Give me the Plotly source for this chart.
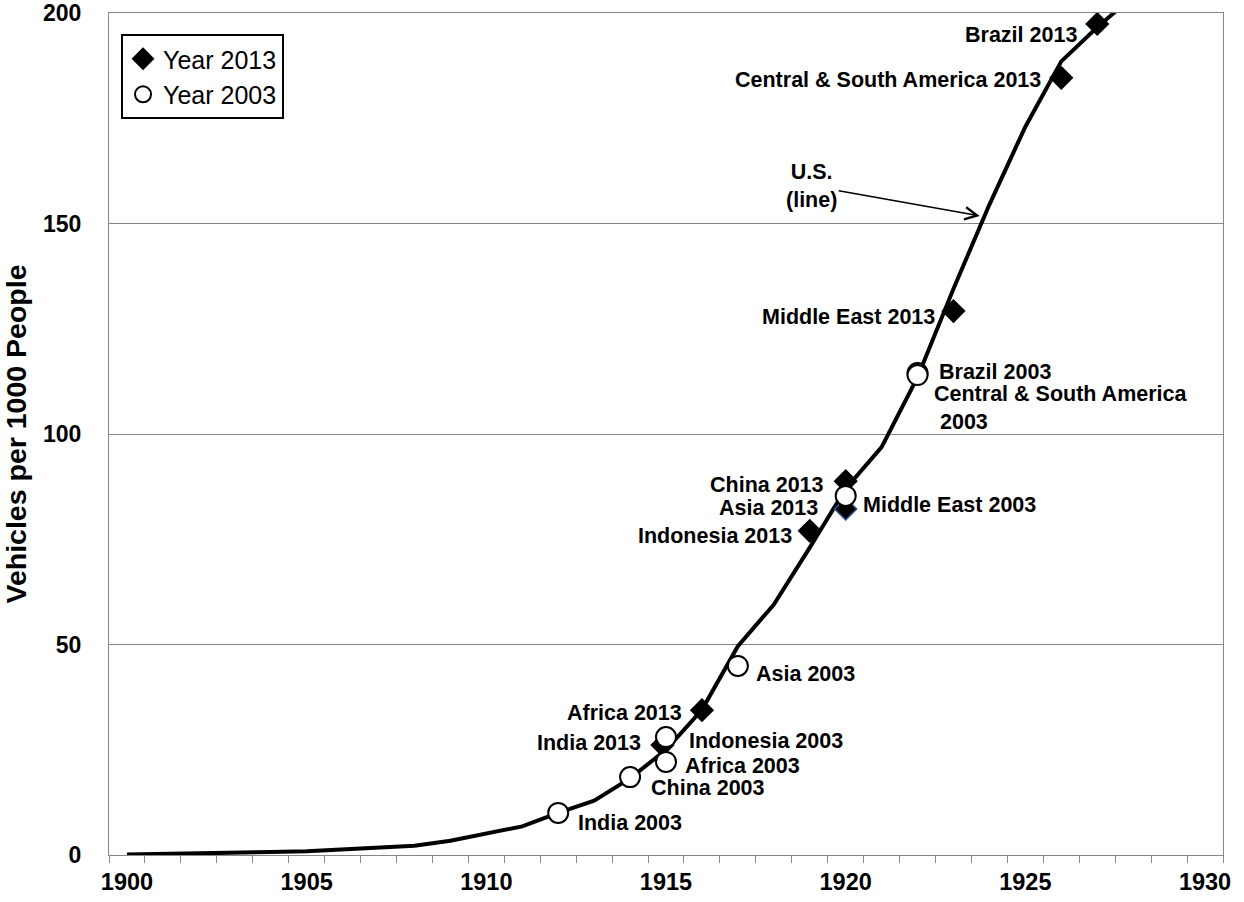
import plotly.graph_objects as go

# U.S. vehicles per 1000 people, by year
us_years = list(range(1900, 1929))
us_values = [0.1, 0.2, 0.3, 0.4, 0.7, 0.9, 1.3, 1.6, 2.2, 3.4,
             5.0, 6.8, 10.0, 12.9, 18.2, 25.0, 34.5, 49.6, 59.5, 73.0,
             87.0, 96.9, 113.5, 134.5, 154.5, 173.0, 188.5, 196.6, 204.0]

# Regions in 2013, placed on the U.S. year with the same ownership level
labels_2013 = ["Brazil 2013", "Central & South America 2013", "Middle East 2013",
               "China 2013", "Asia 2013", "Indonesia 2013", "Africa 2013", "India 2013"]
years_2013 = [1927.0, 1926.0, 1923.0, 1920.0, 1920.0, 1919.0, 1916.0, 1914.9]
values_2013 = [197.4, 184.6, 129.2, 88.8, 82.2, 77.0, 34.4, 26.1]

# Regions in 2003
labels_2003 = ["Brazil 2003", "Central & South America<br>\u00a02003", "Middle East 2003",
               "Asia 2003", "Indonesia 2003", "Africa 2003", "China 2003", "India 2003"]
years_2003 = [1922.0, 1922.0, 1920.0, 1917.0, 1915.0, 1915.0, 1914.0, 1912.0]
values_2003 = [114.5, 114.0, 85.3, 44.9, 28.0, 22.1, 18.5, 10.0]

FONT = "Liberation Sans, Arial, sans-serif"
LABEL_SIZE = 21.5

# label placement: (side, xshift px, yshift px)
offsets_2013 = [("right", -19, -11), ("right", -19, -2), ("right", -17, -6),
                ("right", -21, -4), ("right", -27, 1), ("right", -17, -5),
                ("right", -19, -3), ("right", -20, 2)]
offsets_2003 = [("left", 20, 1), ("left", 15, -33), ("left", 16, -9),
                ("left", 17, -8), ("left", 22, -4), ("left", 18, -4),
                ("left", 20, -11), ("left", 19, -10)]
edge_2013 = ["black", "black", "black", "black", "#2f5597", "black", "black", "black"]

fig = go.Figure()
fig.add_trace(go.Scatter(
    x=us_years, y=us_values, mode="lines", showlegend=False,
    line=dict(color="black", width=4), hoverinfo="skip"))
fig.add_trace(go.Scatter(
    x=years_2013, y=values_2013, mode="markers", name="Year 2013",
    marker=dict(symbol="diamond", size=17, color="black",
                line=dict(color=edge_2013, width=1.5))))
fig.add_trace(go.Scatter(
    x=years_2003, y=values_2003, mode="markers", name="Year 2003",
    marker=dict(symbol="circle", size=20, color="white",
                line=dict(color="black", width=2))))

label_font = dict(family=FONT, size=LABEL_SIZE, color="black", weight="bold")
annotations = []
for lab, xv, yv, (side, dx, dy) in zip(labels_2013, years_2013, values_2013, offsets_2013):
    annotations.append(dict(x=xv, y=yv, text=lab, showarrow=False, xanchor=side,
                            yanchor="middle", xshift=dx, yshift=dy, align="left",
                            font=label_font, borderpad=0))
for lab, xv, yv, (side, dx, dy) in zip(labels_2003, years_2003, values_2003, offsets_2003):
    annotations.append(dict(x=xv, y=yv, text=lab, showarrow=False, xanchor=side,
                            yanchor="middle", xshift=dx, yshift=dy, align="left",
                            font=label_font, borderpad=0))

# pointer to the U.S. curve
annotations.append(dict(
    x=1923.73, y=151.8, text="U.S.<br>(line)", showarrow=True,
    ax=-168, ay=-30, arrowhead=5, arrowsize=1.6, arrowwidth=1.5, arrowcolor="black",
    standoff=0, align="center", font=label_font))

fig.update_layout(
    width=1244, height=902,
    margin=dict(l=109, r=21, t=13, b=47),
    paper_bgcolor="white", plot_bgcolor="white",
    font=dict(family=FONT, color="black"),
    annotations=annotations,
    showlegend=True,
    legend=dict(x=0.0108, y=0.975, xanchor="left", yanchor="top",
                bgcolor="white", bordercolor="black", borderwidth=2,
                font=dict(family=FONT, size=25, color="black"),
                itemwidth=30, tracegroupgap=0),
    xaxis=dict(
        range=[1899.5, 1930.5], automargin=False, showgrid=False, zeroline=False,
        showline=True, linecolor="#868686", linewidth=1, mirror=True,
        tickmode="array", tickvals=[1900, 1905, 1910, 1915, 1920, 1925, 1930],
        ticks="", ticklabelstandoff=6,
        tickfont=dict(family=FONT, size=23.5, color="black", weight="bold"),
        minor=dict(tick0=1899.5, dtick=1, ticks="outside", ticklen=7,
                   tickcolor="#868686", showgrid=False)),
    yaxis=dict(
        range=[0, 200], automargin=False, showgrid=True, gridcolor="#868686", gridwidth=1,
        zeroline=False, showline=True, linecolor="#868686", linewidth=1, mirror=True,
        tickmode="array", tickvals=[0, 50, 100, 150, 200], ticks="",
        ticklabelstandoff=22,
        tickfont=dict(family=FONT, size=23, color="black", weight="bold"),
        title=dict(text="Vehicles per 1000 People", standoff=12,
                   font=dict(family=FONT, size=28.5, color="black", weight="bold"))),
)

fig.write_html("out.html")
